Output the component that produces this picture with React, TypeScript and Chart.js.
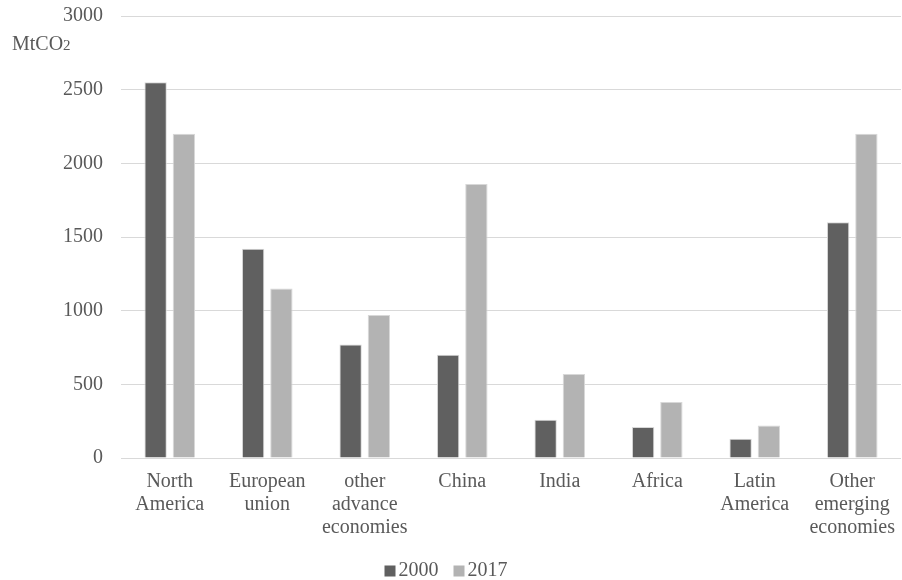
import React, { useEffect, useRef } from "react";
import { Chart, registerables } from "chart.js";

Chart.register(...registerables);

const categories: string[][] = [
  ["North", "America"],
  ["European", "union"],
  ["other", "advance", "economies"],
  ["China"],
  ["India"],
  ["Africa"],
  ["Latin", "America"],
  ["Other", "emerging", "economies"],
];
const series2000: number[] = [2550, 1420, 770, 700, 260, 210, 130, 1600];
const series2017: number[] = [2200, 1150, 970, 1860, 570, 380, 220, 2200];
const seriesLabels: string[] = ["2000", "2017"];
const seriesColors: string[] = ["#606060", "#b3b3b3"];
const yTicks: number[] = [0, 500, 1000, 1500, 2000, 2500, 3000];

const FONT = "'Liberation Serif', 'Times New Roman', serif";
const TEXT = "#595959";
const FS = 20;

const unitLabel = {
  id: "unitLabel",
  afterDraw(chart: any) {
    const ctx = chart.ctx;
    ctx.save();
    ctx.fillStyle = TEXT;
    ctx.textBaseline = "alphabetic";
    ctx.textAlign = "left";
    ctx.font = `${FS}px ${FONT}`;
    const x = 12;
    const y = 50;
    ctx.fillText("MtCO", x, y);
    const w = ctx.measureText("MtCO").width;
    ctx.font = `15px ${FONT}`;
    ctx.fillText("2", x + w, y);
    ctx.restore();
  },
};

const customLegend = {
  id: "customLegend",
  afterDraw(chart: any) {
    const ctx = chart.ctx;
    ctx.save();
    ctx.font = `${FS}px ${FONT}`;
    ctx.textBaseline = "middle";
    ctx.textAlign = "left";
    const box = 11;
    const gapBoxText = 3;
    const gapItems = 15;
    const items = chart.data.datasets.map((d: any) => ({
      label: d.label as string,
      color: d.backgroundColor as string,
      w: ctx.measureText(d.label).width,
    }));
    const total =
      items.reduce((s: number, it: any) => s + box + gapBoxText + it.w, 0) +
      gapItems * (items.length - 1);
    let x = 446 - total / 2;
    const cy = 571;
    items.forEach((it: any) => {
      ctx.fillStyle = it.color;
      ctx.fillRect(x, cy - box / 2, box, box);
      x += box + gapBoxText;
      ctx.fillStyle = TEXT;
      ctx.fillText(it.label, x, cy);
      x += it.w + gapItems;
    });
    ctx.restore();
  },
};

export default function App() {
  const ref = useRef<HTMLCanvasElement | null>(null);
  useEffect(() => {
    document.body.style.margin = "0";
    if (!ref.current) return;
    const chart = new Chart(ref.current, {
      type: "bar",
      data: {
        labels: categories,
        datasets: [
          {
            label: seriesLabels[0],
            data: series2000,
            backgroundColor: seriesColors[0],
            borderColor: "#d8d8d8",
            borderWidth: 1,
          },
          {
            label: seriesLabels[1],
            data: series2017,
            backgroundColor: seriesColors[1],
            borderColor: "#d8d8d8",
            borderWidth: 1,
          },
        ],
      },
      options: {
        animation: false,
        responsive: false,
        maintainAspectRatio: false,
        layout: { padding: { top: 16, right: 1, left: 0, bottom: 0 } },
        datasets: {
          bar: { categoryPercentage: 0.58, barPercentage: 0.79 },
        },
        plugins: {
          tooltip: { enabled: false },
          legend: { display: false },
        },
        scales: {
          x: {
            grid: { display: false },
            border: { display: false },
            ticks: {
              color: TEXT,
              font: { family: FONT, size: FS, lineHeight: 1.15 },
              maxRotation: 0,
              autoSkip: false,
              padding: 4,
            },
            afterFit(scale: any) {
              scale.height = 122;
              scale.paddingLeft = 0;
              scale.paddingRight = 0;
            },
          },
          y: {
            min: 0,
            max: 3000,
            afterBuildTicks(scale: any) {
              scale.ticks = yTicks.map((v) => ({ value: v }));
            },
            grid: { color: "#d9d9d9", lineWidth: 1, drawTicks: false },
            border: { display: false },
            ticks: {
              color: TEXT,
              font: { family: FONT, size: FS },
              padding: 18,
              callback: (v: any) => String(v),
            },
            afterFit(scale: any) {
              scale.width = 121;
              scale.paddingTop = 0;
              scale.paddingBottom = 0;
            },
          },
        },
      },
      plugins: [unitLabel, customLegend],
    });
    return () => chart.destroy();
  }, []);
  return (
    <div style={{ width: 902, height: 580, background: "#fff" }}>
      <canvas ref={ref} width={902} height={580} style={{ display: "block" }} />
    </div>
  );
}
